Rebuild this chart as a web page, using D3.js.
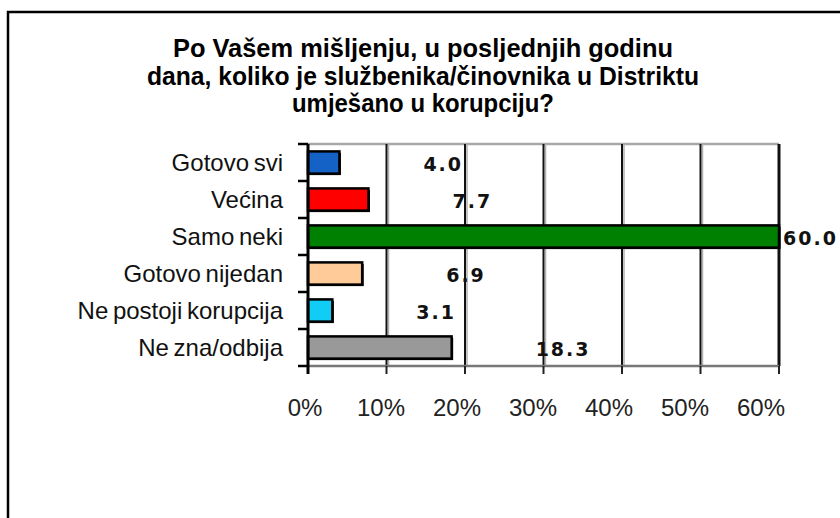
<!DOCTYPE html>
<html>
<head>
<meta charset="utf-8">
<script src="https://cdn.jsdelivr.net/npm/d3@7"></script>
<style>
  body { margin: 0; background: #fff; }
  .catLabel { font-family: "Liberation Sans", Arial, sans-serif; font-size: 24px; fill: #111; word-spacing: -2px; }
  .tickLabel { font-family: "Liberation Sans", Arial, sans-serif; font-size: 24px; fill: #222; }
  .valLabel { font-family: "DejaVu Sans", Verdana, sans-serif; font-size: 19px; font-weight: bold; fill: #111; letter-spacing: 2px; }
  .title { font-family: "Liberation Sans", Arial, sans-serif; font-size: 25px; font-weight: bold; fill: #000; }
</style>
</head>
<body>
<div id="chart"></div>
<script>
// chart data
var categories = ["Gotovo svi", "Većina", "Samo neki", "Gotovo nijedan", "Ne postoji korupcija", "Ne zna/odbija"];
var values = [4.0, 7.7, 60.0, 6.9, 3.1, 18.3];
var barColors = ["#1462c6", "#ff0000", "#008000", "#ffcc99", "#11ccf5", "#999999"];
var xTicks = [0, 10, 20, 30, 40, 50, 60];
var titleLines = [
  "Po Vašem mišljenju, u posljednjih godinu",
  "dana, koliko je službenika/činovnika u Distriktu",
  "umješano u korupciju?"
];
// the title in the original is a condensed face, so squeeze each line
var titleWidths = [500, 552, 262];

var svgWidth = 840;
var svgHeight = 518;

var margin = { top: 144, left: 308 };
var width = 471;
var height = 222;

var svg = d3.select("#chart")
  .append("svg")
  .attr("width", svgWidth)
  .attr("height", svgHeight);

// outer frame (runs off the right and bottom edges)
svg.append("rect")
  .attr("x", 8)
  .attr("y", 12)
  .attr("width", 860)
  .attr("height", 540)
  .attr("fill", "#fff")
  .attr("stroke", "#000")
  .attr("stroke-width", 2.5);

// title
svg.selectAll(".title")
  .data(titleLines)
  .enter()
  .append("text")
  .attr("class", "title")
  .attr("text-anchor", "middle")
  .attr("x", 423)
  .attr("y", function(d, i) { return 57 + i * 27.5; })
  .attr("textLength", function(d, i) { return titleWidths[i]; })
  .attr("lengthAdjust", "spacingAndGlyphs")
  .text(function(d) { return d; });

var chartGroup = svg.append("g")
  .attr("transform", `translate(${margin.left}, ${margin.top})`);

var xScale = d3.scaleLinear()
  .domain([0, 60])
  .range([0, width]);

var yScale = d3.scaleBand()
  .domain(categories)
  .range([0, height])
  .paddingInner(0.4)
  .paddingOuter(0.2);

// band edges for the y tick marks
var yBand = d3.scaleBand()
  .domain(categories)
  .range([0, height]);

// tick labels sit slightly left of the gridlines, as in the original
var xLabelScale = d3.scaleLinear()
  .domain([0, 60])
  .range([-3, 453]);

// top border of plot area
chartGroup.append("line")
  .attr("x1", 0).attr("x2", width)
  .attr("y1", 0).attr("y2", 0)
  .attr("stroke", "#a8a8a8")
  .attr("stroke-width", 2.5);

// vertical gridlines with a light shade to the right
chartGroup.selectAll(".gridShade")
  .data(xTicks.slice(1, -1))
  .enter()
  .append("line")
  .attr("x1", d => xScale(d) + 2).attr("x2", d => xScale(d) + 2)
  .attr("y1", 0).attr("y2", height)
  .attr("stroke", "#b0b0b0")
  .attr("stroke-width", 1.5);

chartGroup.selectAll(".grid")
  .data(xTicks.slice(1))
  .enter()
  .append("line")
  .attr("x1", d => xScale(d)).attr("x2", d => xScale(d))
  .attr("y1", 0).attr("y2", height)
  .attr("stroke", "#111")
  .attr("stroke-width", function(d) { return d === 60 ? 3 : 2; });

// bottom axis line and ticks
chartGroup.append("line")
  .attr("x1", 0).attr("x2", width)
  .attr("y1", height).attr("y2", height)
  .attr("stroke", "#777")
  .attr("stroke-width", 2.5);

chartGroup.selectAll(".xTick")
  .data(xTicks)
  .enter()
  .append("line")
  .attr("x1", d => xScale(d)).attr("x2", d => xScale(d))
  .attr("y1", height).attr("y2", height + 8)
  .attr("stroke", "#222")
  .attr("stroke-width", 2);

chartGroup.selectAll(".tickLabel")
  .data(xTicks)
  .enter()
  .append("text")
  .attr("class", "tickLabel")
  .attr("text-anchor", "middle")
  .attr("x", d => xLabelScale(d))
  .attr("y", height + 50)
  .text(d => d + "%");

// bars
var rows = categories.map(function(c, i) {
  return { cat: c, value: values[i], color: barColors[i] };
});

// bar shadow
chartGroup.selectAll(".barShadow")
  .data(rows)
  .enter()
  .append("rect")
  .attr("x", 1.5)
  .attr("y", d => yScale(d.cat) + 1.5)
  .attr("width", d => xScale(d.value))
  .attr("height", yScale.bandwidth())
  .attr("fill", "#000");

chartGroup.selectAll(".bar")
  .data(rows)
  .enter()
  .append("rect")
  .attr("x", 0)
  .attr("y", d => yScale(d.cat))
  .attr("width", d => xScale(d.value))
  .attr("height", yScale.bandwidth())
  .attr("fill", d => d.color)
  .attr("stroke", "#000")
  .attr("stroke-width", 2.5);

// value labels
chartGroup.selectAll(".valLabel")
  .data(rows)
  .enter()
  .append("text")
  .attr("class", "valLabel")
  .attr("x", function(d) {
    var end = xScale(d.value);
    return end + 84 > width ? end + 4 : end + 84;
  })
  .attr("y", d => yScale(d.cat) + yScale.bandwidth() / 2 + 8)
  .text(d => d.value.toFixed(1));

// y axis
chartGroup.append("line")
  .attr("x1", 0).attr("x2", 0)
  .attr("y1", 0).attr("y2", height + 8)
  .attr("stroke", "#000")
  .attr("stroke-width", 3);

var yEdges = categories.map(c => yBand(c)).concat([height]);
chartGroup.selectAll(".yTick")
  .data(yEdges)
  .enter()
  .append("line")
  .attr("x1", -10).attr("x2", 0)
  .attr("y1", d => d).attr("y2", d => d)
  .attr("stroke", "#000")
  .attr("stroke-width", 2.5);

chartGroup.selectAll(".catLabel")
  .data(categories)
  .enter()
  .append("text")
  .attr("class", "catLabel")
  .attr("text-anchor", "end")
  .attr("x", -25)
  .attr("y", d => yBand(d) + yBand.bandwidth() / 2 + 8)
  .text(d => d);
</script>
</body>
</html>
